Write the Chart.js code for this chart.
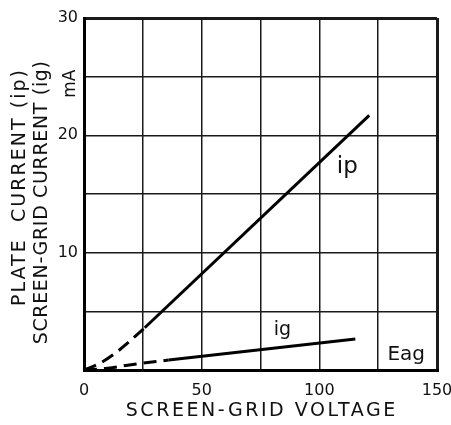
<!DOCTYPE html>
<html>
<head>
<meta charset="utf-8">
<script src="https://cdn.jsdelivr.net/npm/chart.js@4/dist/chart.umd.min.js"></script>
<style>
  html, body { margin: 0; padding: 0; background: #fff; }
  canvas { display: block; }
</style>
</head>
<body>
<canvas id="chart1" width="451" height="425"></canvas>
<script>
// screen-grid voltage (V) against current (mA)
var ipDashVolts = [0, 7, 15, 25.8];
var ipDashMa    = [0, 0.6, 1.7, 3.6];
var ipVolts     = [25.8, 121.2];
var ipMa        = [3.6, 21.7];

var igDashVolts = [0, 10, 20, 36];
var igDashMa    = [0, 0.15, 0.45, 0.85];
var igVolts     = [36, 115.3];
var igMa        = [0.85, 2.64];

var xTicks = [0, 50, 100, 150];
var yTicks = [10, 20, 30];

var curveLabels = ['ip', 'ig', 'Eag'];
var labelVolts  = [111.9, 84.3, 136.9];
var labelMa     = [16.8, 2.95, 0.85];

var xTitle = 'SCREEN-GRID VOLTAGE';
var yTitle1 = 'PLATE  CURRENT (ip)';
var yTitle2 = 'SCREEN-GRID CURRENT (ig)';
var yUnit = 'mA';

function pts(xs, ys) {
    return xs.map(function (v, i) { return {x: v, y: ys[i]}; });
}

var ink = '#111';
var face = '"DejaVu Sans", sans-serif';

function lineSet(xs, ys, dashed) {
    return {
        data: pts(xs, ys),
        borderColor: '#000',
        borderWidth: 3,
        borderDash: dashed ? [13, 7] : [],
        pointRadius: 0,
        tension: dashed ? 0.4 : 0,
        cubicInterpolationMode: dashed ? 'monotone' : 'default',
        fill: false
    };
}

// draws text stretched to a given length (the sheet uses wide lettering)
function spreadText(ctx, text, cx, cy, len, font, rot) {
    ctx.save();
    ctx.font = font;
    ctx.letterSpacing = '0px';
    var w = ctx.measureText(text).width;
    var sp = Math.max(0, (len - w) / text.length);
    ctx.letterSpacing = sp.toFixed(2) + 'px';
    ctx.translate(cx + (rot ? 0 : sp / 2), cy + (rot ? sp / 2 : 0));
    if (rot) ctx.rotate(-Math.PI / 2);
    ctx.textAlign = 'center';
    ctx.textBaseline = 'middle';
    ctx.fillText(text, 0, 0);
    ctx.restore();
}

var sheetText = {
    id: 'sheetText',
    afterDraw: function (chart) {
        var ctx = chart.ctx, area = chart.chartArea;
        var x = chart.scales.x, y = chart.scales.y;
        ctx.save();
        ctx.fillStyle = ink;

        spreadText(ctx, xTitle, (area.left + area.right) / 2, 411, 272, '19px ' + face, false);
        spreadText(ctx, yTitle1, 20, 186, 238, '19px ' + face, true);
        spreadText(ctx, yTitle2, 42, 202, 284, '19px ' + face, true);
        spreadText(ctx, yUnit, area.left - 13, y.getPixelForValue(24.4), 28, '17px ' + face, true);

        var sizes = [23, 19, 20];
        ctx.textAlign = 'center';
        ctx.textBaseline = 'alphabetic';
        curveLabels.forEach(function (t, i) {
            ctx.font = sizes[i] + 'px ' + face;
            ctx.fillText(t, x.getPixelForValue(labelVolts[i]), y.getPixelForValue(labelMa[i]));
        });
        ctx.restore();
    }
};

function gridWidth(max) {
    return function (c) {
        if (c.tick && (c.tick.value === 0 || c.tick.value === max)) return 3;
        return 1.5;
    };
}

var config = {
    type: 'line',
    data: {
        datasets: [
            lineSet(ipDashVolts, ipDashMa, true),
            lineSet(ipVolts, ipMa, false),
            lineSet(igDashVolts, igDashMa, true),
            lineSet(igVolts, igMa, false)
        ]
    },
    options: {
        responsive: false,
        animation: false,
        devicePixelRatio: 1,
        layout: { padding: { top: 18, right: 14, bottom: 0, left: 0 } },
        plugins: { legend: { display: false }, tooltip: { enabled: false } },
        scales: {
            x: {
                type: 'linear',
                min: 0, max: 150,
                afterFit: function (s) { s.height = 55; s.paddingLeft = 0; s.paddingRight = 0; },
                grid: { color: '#1a1a1a', lineWidth: gridWidth(150), drawTicks: false },
                border: { display: true, color: '#000', width: 3 },
                ticks: {
                    stepSize: 25,
                    padding: 11,
                    color: ink,
                    font: { family: face, size: 16 },
                    maxRotation: 0,
                    autoSkip: false,
                    callback: function (v) { return xTicks.indexOf(v) >= 0 ? String(v) : ''; }
                }
            },
            y: {
                min: 0, max: 30,
                afterFit: function (s) { s.width = 84; s.paddingTop = 0; s.paddingBottom = 0; },
                grid: { color: '#1a1a1a', lineWidth: gridWidth(30), drawTicks: false },
                border: { display: true, color: '#000', width: 3 },
                ticks: {
                    stepSize: 5,
                    padding: 6,
                    color: ink,
                    font: { family: face, size: 16 },
                    autoSkip: false,
                    callback: function (v) { return yTicks.indexOf(v) >= 0 ? String(v) : ''; }
                }
            }
        }
    },
    plugins: [sheetText]
};

var myChart = new Chart(document.getElementById('chart1'), config);
</script>
</body>
</html>
